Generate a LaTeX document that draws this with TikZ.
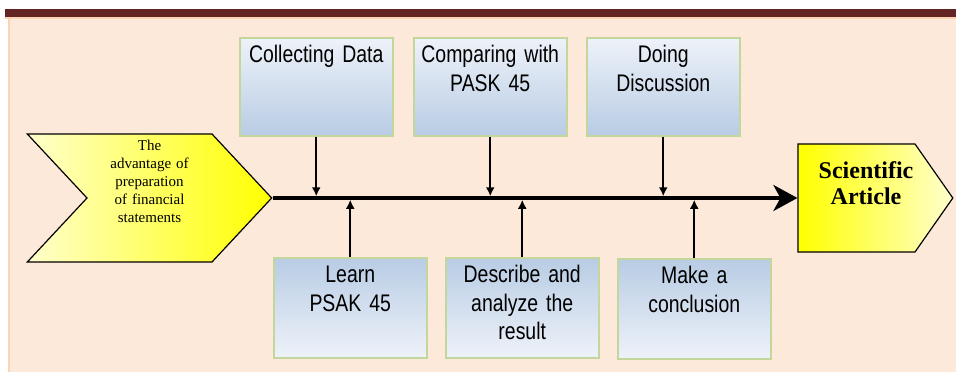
\documentclass[tikz,border=0pt]{standalone}
\usepackage{fontspec}
\setmainfont{Liberation Serif}
\newfontfamily\boxfont[FakeStretch=0.81]{Liberation Sans}
\usetikzlibrary{shapes.symbols,arrows.meta}

\definecolor{barred}{HTML}{632523}
\definecolor{peach}{HTML}{FDE9D9}
\definecolor{peachedge}{HTML}{FBD4B4}
\definecolor{boxblue}{HTML}{B8CCE4}
\definecolor{boxlight}{HTML}{EEF2F9}
\definecolor{boxgreen}{HTML}{C3D69B}
\definecolor{softyellow}{HTML}{FFFFCC}

\tikzstyle{main}   = [draw=boxgreen, line width=1.5pt, inner xsep=4pt, inner ysep=8pt, text width=145pt, align=center, text height=17pt, font=\boxfont\fontsize{24}{28.5}\selectfont]
\tikzstyle{ctop}   = [main, top color=boxlight, bottom color=boxblue, text depth=65pt, anchor=north west]
\tikzstyle{cbot}   = [main, top color=boxblue, bottom color=boxlight, text depth=67pt, anchor=north west]
\tikzstyle{sig}    = [signal, draw=black, line width=1.2pt, align=center]
\tikzstyle{cstart} = [sig, signal from=west, signal to=east, signal pointer angle=94, left color=softyellow, right color=yellow, text width=115pt, inner xsep=5pt, inner ysep=5pt, text height=11pt, text depth=107pt, font=\fontsize{15}{18}\selectfont]
\tikzstyle{cend}   = [sig, signal to=east, signal pointer angle=110, left color=yellow, right color=softyellow, text width=126pt, inner xsep=-4.5pt, inner ysep=17pt, text height=17pt, text depth=57pt, font=\bfseries\fontsize{24}{26}\selectfont]
\tikzstyle{spine}  = [line width=3.5pt, -{Stealth[length=24pt, width=26pt, inset=7pt]}]
\tikzstyle{feed}   = [line width=2pt, -{Latex[length=9pt, width=9pt]}, shorten >=1.75pt]

\begin{document}
\begin{tikzpicture}[x=1pt, y=-1pt]
    \useasboundingbox (0, 0) rectangle (956, 372);
    \fill[peach]     (8, 17) rectangle (956, 372);
    \fill[peachedge] (8, 17) rectangle (10, 372);
    \fill[peachedge] (5, 17) rectangle (956, 19);
    \fill[barred]    (5, 9)  rectangle (956, 17);

    \node[cstart] (adv) at (149.5, 198) {The\\ advantage of\\ preparation\\ of financial\\ statements};
    \node[cend]   (art) at (856.5, 198) {\hspace*{19pt}Scientific\\ \hspace*{19pt}Article};

    \node[ctop] (collect)  at (239, 37)  {Collecting Data};
    \node[ctop] (compare)  at (413, 37)  {Comparing with\\ PASK 45};
    \node[ctop] (discuss)  at (586, 37)  {Doing\\ Discussion};
    \node[cbot] (learn)    at (273, 257) {Learn\\ PSAK 45};
    \node[cbot] (describe) at (445, 257) {Describe and\\ analyze the\\ result};
    \node[cbot] (conclude) at (617, 258) {Make a\\ conclusion};

    \draw[spine] (adv.east) -- (art.west);
    \foreach \n in {collect, compare, discuss}
        \draw[feed] (\n.south) -- (\n.south |- adv.east);
    \foreach \n in {learn, describe, conclude}
        \draw[feed] (\n.north) -- (\n.north |- adv.east);
\end{tikzpicture}
\end{document}
